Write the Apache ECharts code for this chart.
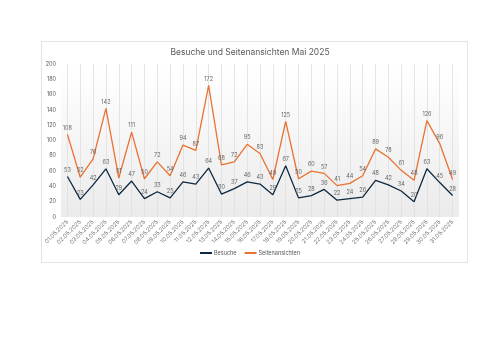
<!DOCTYPE html>
<html>
<head>
<meta charset="utf-8">
<script src="https://cdn.jsdelivr.net/npm/echarts@6/dist/echarts.min.js"></script>
<style>
  html, body { margin: 0; padding: 0; background: #ffffff; }
  #chart { width: 500px; height: 353px; }
</style>
</head>
<body>
<div id="chart"></div>
<script>
// datos
const tage = [
  "01.05.2025", "02.05.2025", "03.05.2025", "04.05.2025", "05.05.2025", "06.05.2025",
  "07.05.2025", "08.05.2025", "09.05.2025", "10.05.2025", "11.05.2025", "12.05.2025",
  "13.05.2025", "14.05.2025", "15.05.2025", "16.05.2025", "17.05.2025", "18.05.2025",
  "19.05.2025", "20.05.2025", "21.05.2025", "22.05.2025", "23.05.2025", "24.05.2025",
  "25.05.2025", "26.05.2025", "27.05.2025", "28.05.2025", "29.05.2025", "30.05.2025",
  "31.05.2025"
];
const besuche = [53, 23, 42, 63, 29, 47, 24, 33, 25, 46, 43, 64, 30, 37, 46, 43, 29, 67,
  25, 28, 36, 22, 24, 26, 48, 42, 34, 20, 63, 45, 28];
const seitenansichten = [108, 52, 76, 142, 51, 111, 50, 72, 54, 94, 87, 172, 68, 72, 95, 83, 49, 125,
  50, 60, 57, 41, 44, 54, 89, 78, 61, 48, 126, 96, 49];

const fuente = "Inter, 'Noto Sans', sans-serif";
const gris = "#595959";
const azul = "#0E2841";
const naranja = "#E97132";

const container = document.querySelector("#chart");
const miGrafico = echarts.init(container, null, { renderer: "canvas" });

// etiqueta de datos encima de cada punto
const etiqueta = { show: true, position: "top", fontSize: 5.5, color: "#666666", distance: 3, fontFamily: fuente };

const option = {
  backgroundColor: "#ffffff",
  animation: false,
  textStyle: { fontFamily: fuente },
  graphic: [
    {
      type: "rect",
      left: 41, top: 41,
      shape: { width: 426, height: 221 },
      style: { fill: "#ffffff", stroke: "#e3e3e3", lineWidth: 1 },
      z: -10
    }
  ],
  title: {
    text: "Besuche und Seitenansichten Mai 2025",
    left: "center",
    top: 43,
    textStyle: { fontSize: 8.5, fontWeight: "normal", color: gris, fontFamily: fuente }
  },
  legend: {
    bottom: 92,
    left: "center",
    itemWidth: 12,
    itemHeight: 2,
    itemGap: 8,
    icon: "rect",
    textStyle: { fontSize: 5.5, color: gris, fontFamily: fuente, padding: [0, 0, 0, -3] },
    data: [
      { name: "Besuche", itemStyle: { color: azul, opacity: 1 } },
      { name: "Seitenansichten", itemStyle: { color: naranja, opacity: 1 } }
    ]
  },
  grid: {
    left: 61, right: 41, top: 64, bottom: 136,
    show: true,
    borderWidth: 0,
    backgroundColor: {
      type: "linear", x: 0, y: 0, x2: 0, y2: 1,
      colorStops: [
        { offset: 0, color: "#ffffff" },
        { offset: 0.12, color: "#fdfdfd" },
        { offset: 1, color: "#ebebeb" }
      ]
    }
  },
  xAxis: {
    type: "category",
    data: tage,
    boundaryGap: true,
    axisLine: { show: false },
    axisTick: { show: false },
    splitLine: { show: false },
    axisLabel: { rotate: 45, fontSize: 5.8, color: "#7a7a7a", margin: 4, interval: 0, fontFamily: fuente }
  },
  yAxis: {
    type: "value",
    min: 0, max: 200, interval: 20,
    axisLine: { show: false },
    axisTick: { show: false },
    splitLine: { show: false },
    axisLabel: { fontSize: 5.5, color: gris, margin: 5, fontFamily: fuente }
  },
  series: [
    {
      name: "Besuche",
      type: "line",
      data: besuche,
      symbol: "circle",
      symbolSize: 1,
      showSymbol: true,
      itemStyle: { color: "rgba(0,0,0,0)", borderWidth: 0 },
      lineStyle: { width: 1.3, color: azul },
      label: etiqueta,
      labelLayout: { hideOverlap: false },
      markLine: {
        silent: true,
        symbol: "none",
        label: { show: false },
        lineStyle: { color: "#dedede", width: 0.8, type: "solid" },
        data: tage.map((t) => ({ xAxis: t })),
        z: 0
      },
      z: 3
    },
    {
      name: "Seitenansichten",
      type: "line",
      data: seitenansichten,
      symbol: "circle",
      symbolSize: 1,
      showSymbol: true,
      itemStyle: { color: "rgba(0,0,0,0)", borderWidth: 0 },
      lineStyle: { width: 1.3, color: naranja },
      label: etiqueta,
      labelLayout: { hideOverlap: false },
      z: 3
    }
  ]
};

miGrafico.setOption(option);
</script>
</body>
</html>
